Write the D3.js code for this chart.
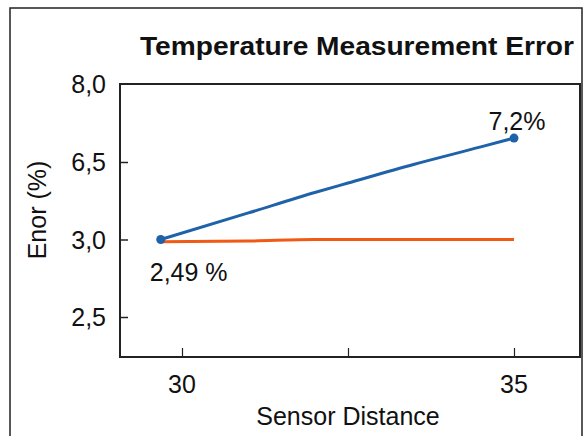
<!DOCTYPE html>
<html>
<head>
<meta charset="utf-8">
<script src="https://cdn.jsdelivr.net/npm/d3@7"></script>
<style>
  body { margin: 0; background: #fff; }
  text { font-family: "Liberation Sans", Arial, sans-serif; fill: #111; }
</style>
</head>
<body>
<svg id="chart" width="584" height="436"></svg>
<script>
// Data
var distance = [29.68, 31, 32, 32.5, 33.5, 34.5, 35];
var errorBlue = [3.0, 4.2, 5.12, 5.55, 6.4, 6.79, 6.96];
var errorOrange = [2.985, 2.99, 3.0, 3.0, 3.0, 3.0, 3.0];
var yTicks = [2.5, 3.0, 6.5, 8.0];
var yTickLabels = ["2,5", "3,0", "6,5", "8,0"];
var xTicks = [30, 32.5, 35];
var xTickLabels = ["30", "", "35"];
var annotations = [
  { x: 35, y: 6.96, text: "7,2%" },
  { x: 29.68, y: 3.0, text: "2,49 %" }
];

var svg = d3.select('#chart');

// plot box
var plotLeft = 120, plotRight = 580, plotTop = 84, plotBottom = 357;

// scales (the y axis is not evenly valued, so piecewise)
var xScale = d3.scaleLinear().domain([30, 35]).range([182, 514]);
var yScale = d3.scaleLinear().domain(yTicks).range([317, 239.5, 162, 84]);

// outer frame
svg.append('rect')
  .attr('x', 10).attr('y', 8)
  .attr('width', 572).attr('height', 460)
  .attr('fill', 'none').attr('stroke', '#222').attr('stroke-width', 1.5);

// title
svg.append('text')
  .attr('x', 357).attr('y', 55)
  .attr('text-anchor', 'middle')
  .attr('textLength', 434)
  .attr('lengthAdjust', 'spacingAndGlyphs')
  .style('font-weight', 'bold')
  .style('font-size', '26px')
  .text('Temperature Measurement Error');

// plot border
svg.append('rect')
  .attr('x', plotLeft).attr('y', plotTop)
  .attr('width', plotRight - plotLeft).attr('height', plotBottom - plotTop)
  .attr('fill', 'none').attr('stroke', '#222').attr('stroke-width', 2);

// y axis, ticks pointing inwards
var yAxis = d3.axisRight(yScale)
  .tickValues(yTicks.slice(0, 3))
  .tickSize(8)
  .tickFormat('');
svg.append('g')
  .attr('transform', 'translate(' + plotLeft + ',0)')
  .call(yAxis)
  .call(function(g) { g.select('.domain').remove(); })
  .selectAll('line').attr('stroke', '#222').attr('stroke-width', 1.5);

svg.append('g').selectAll('text')
  .data(yTicks)
  .enter().append('text')
  .attr('x', 106)
  .attr('y', function(d) { return yScale(d) + 9; })
  .attr('text-anchor', 'end')
  .style('font-size', '25px')
  .text(function(d, i) { return yTickLabels[i]; });

// x axis, ticks pointing up
var xAxis = d3.axisTop(xScale)
  .tickValues(xTicks)
  .tickSize(9)
  .tickFormat('');
svg.append('g')
  .attr('transform', 'translate(0,' + plotBottom + ')')
  .call(xAxis)
  .call(function(g) { g.select('.domain').remove(); })
  .selectAll('line').attr('stroke', '#222').attr('stroke-width', 1.2);

svg.append('g').selectAll('text')
  .data(xTicks)
  .enter().append('text')
  .attr('x', function(d) { return xScale(d); })
  .attr('y', 393)
  .attr('text-anchor', 'middle')
  .style('font-size', '25px')
  .text(function(d, i) { return xTickLabels[i]; });

// axis titles
svg.append('text')
  .attr('x', 348).attr('y', 425)
  .attr('text-anchor', 'middle')
  .style('font-size', '25px')
  .text('Sensor Distance');

svg.append('text')
  .attr('transform', 'translate(46,210) rotate(-90)')
  .attr('text-anchor', 'middle')
  .style('font-size', '25px')
  .text('Enor (%)');

// lines
var line = d3.line()
  .x(function(d) { return xScale(d[0]); })
  .y(function(d) { return yScale(d[1]); })
  .curve(d3.curveMonotoneX);

svg.append('path')
  .attr('d', line(d3.zip(distance, errorOrange)))
  .attr('fill', 'none').attr('stroke', '#f05a14').attr('stroke-width', 3);

svg.append('path')
  .attr('d', line(d3.zip(distance, errorBlue)))
  .attr('fill', 'none').attr('stroke', '#1f62aa').attr('stroke-width', 3);

// end dots
svg.selectAll('circle')
  .data([0, distance.length - 1])
  .enter().append('circle')
  .attr('cx', function(i) { return xScale(distance[i]); })
  .attr('cy', function(i) { return yScale(errorBlue[i]); })
  .attr('r', 4.5)
  .attr('fill', '#1f62aa');

// value labels
svg.append('text')
  .attr('x', xScale(annotations[0].x) + 3).attr('y', yScale(annotations[0].y) - 8)
  .attr('text-anchor', 'middle')
  .style('font-size', '25px')
  .text(annotations[0].text);

svg.append('text')
  .attr('x', xScale(annotations[1].x) - 11).attr('y', yScale(annotations[1].y) + 41)
  .attr('text-anchor', 'start')
  .style('font-size', '25px')
  .text(annotations[1].text);
</script>
</body>
</html>
